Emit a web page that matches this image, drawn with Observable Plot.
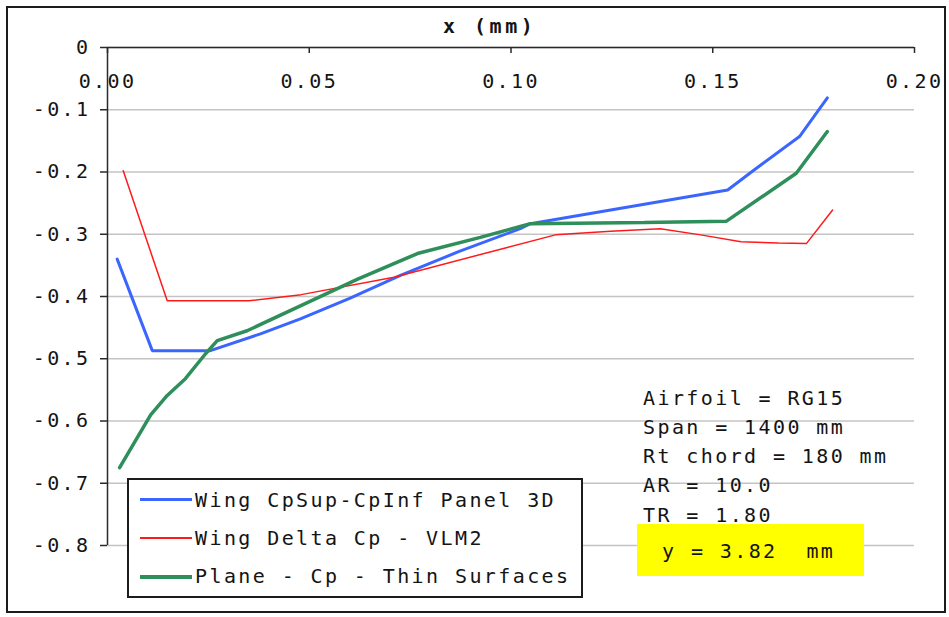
<!DOCTYPE html>
<html>
<head>
<meta charset="utf-8">
<script src="https://cdn.jsdelivr.net/npm/d3@7"></script>
<script src="https://cdn.jsdelivr.net/npm/@observablehq/plot@0.6"></script>
<style>
  html, body { margin: 0; padding: 0; background: #fff; }
  #wrap { position: relative; width: 949px; height: 617px; overflow: hidden; }
  .ov { position: absolute; font-family: "DejaVu Sans Mono", monospace; font-size: 20px; line-height: 20px; letter-spacing: 2.4px; color: #141414; white-space: pre; }
  #border { position: absolute; left: 6px; top: 6px; width: 940px; height: 607px; box-sizing: border-box; border: 2px solid #1c1c1c; pointer-events: none; }
  #legend { position: absolute; left: 127px; top: 478px; width: 456px; height: 120px; box-sizing: border-box; border: 2px solid #1c1c1c; background: #fff; }
  .sw { position: absolute; left: 11px; width: 52px; }
  #ybox { position: absolute; left: 637px; top: 524px; width: 227px; height: 52px; background: #ffff00; }
</style>
</head>
<body>
<div id="wrap"></div>
<script>
// ---- data ----
const seriesNames = ["Wing CpSup-CpInf Panel 3D", "Wing Delta Cp - VLM2", "Plane - Cp - Thin Surfaces"];
const seriesColors = ["#3a66ff", "#ff1a1a", "#2f8f5b"];
const seriesWidths = [3, 1.5, 3.5];

const blueX = [0.0024, 0.0111, 0.0255, 0.0379, 0.0478, 0.0600, 0.0726, 0.0870, 0.1023, 0.1048, 0.1247, 0.1537, 0.1600, 0.1715, 0.1784];
const blueY = [-0.340, -0.487, -0.487, -0.460, -0.436, -0.403, -0.366, -0.328, -0.291, -0.283, -0.261, -0.229, -0.198, -0.143, -0.081];

const redX = [0.0039, 0.0148, 0.0350, 0.0480, 0.0710, 0.0986, 0.1110, 0.1247, 0.1370, 0.1470, 0.1570, 0.1663, 0.1732, 0.1797];
const redY = [-0.198, -0.407, -0.407, -0.397, -0.369, -0.322, -0.301, -0.295, -0.291, -0.301, -0.312, -0.314, -0.315, -0.261];

const greenX = [0.0030, 0.0107, 0.0148, 0.0193, 0.0243, 0.0272, 0.0346, 0.0478, 0.0620, 0.0768, 0.0924, 0.1048, 0.1330, 0.1534, 0.1707, 0.1784];
const greenY = [-0.675, -0.590, -0.559, -0.532, -0.492, -0.471, -0.455, -0.415, -0.372, -0.331, -0.305, -0.283, -0.281, -0.279, -0.202, -0.135];

const xTicks = [0, 0.05, 0.10, 0.15, 0.20];
const yTicks = [0, -0.1, -0.2, -0.3, -0.4, -0.5, -0.6, -0.7, -0.8];

const titleText = "x (mm)";
const infoLines = ["Airfoil = RG15", "Span = 1400 mm", "Rt chord = 180 mm", "AR = 10.0", "TR = 1.80"];
const yLabel = "y = 3.82  mm";

// ---- build ----
const toRows = (xs, ys) => xs.map((x, i) => ({x, y: ys[i]}));
const allSeries = [toRows(blueX, blueY), toRows(redX, redY), toRows(greenX, greenY)];

const chart = Plot.plot({
  width: 949,
  height: 617,
  marginLeft: 107,
  marginRight: 35,
  marginTop: 47,
  marginBottom: 72,
  x: {domain: [0, 0.2], label: null},
  y: {domain: [-0.8, 0], label: null},
  style: {fontFamily: "DejaVu Sans Mono", fontSize: "20px", color: "#141414", background: "#fff", letterSpacing: "2.4px"},
  marks: [
    Plot.gridY(yTicks, {stroke: "#c4c4c4", strokeOpacity: 1, strokeWidth: 1.5}),
    Plot.ruleY([0], {stroke: "#2a2a2a", strokeWidth: 1.5}),
    Plot.ruleX([0], {stroke: "#2a2a2a", strokeWidth: 1.5}),
    Plot.axisY({ticks: yTicks, tickSize: 7, tickPadding: 10, stroke: "#2a2a2a", strokeWidth: 1.5, label: null,
      tickFormat: d => d === 0 ? "0" : d.toFixed(1)}),
    Plot.axisX({anchor: "top", ticks: xTicks, tickSize: 0, tickPadding: -40, label: null,
      tickFormat: d => d.toFixed(2)}),
    Plot.tickX(xTicks, {x: d => d, insetBottom: 492, stroke: "#2a2a2a", strokeWidth: 1.5}),
    ...allSeries.map((rows, i) => Plot.line(rows, {x: "x", y: "y", stroke: seriesColors[i], strokeWidth: seriesWidths[i], strokeLinejoin: "miter"}))
  ]
});

const wrap = document.getElementById("wrap");
wrap.appendChild(chart);

function addDiv(cls, text, left, top, extra) {
  const d = document.createElement("div");
  d.className = cls;
  d.textContent = text;
  d.style.left = left + "px";
  d.style.top = top + "px";
  if (extra) Object.assign(d.style, extra);
  wrap.appendChild(d);
  return d;
}

// title
addDiv("ov", titleText, 443, 16, {fontWeight: "bold", letterSpacing: "3.5px"});

// info lines
const infoTops = [388, 417, 446, 475, 505];
infoLines.forEach((t, i) => addDiv("ov", t, 643, infoTops[i]));

// yellow box
const yb = document.createElement("div"); yb.id = "ybox"; wrap.appendChild(yb);
addDiv("ov", yLabel, 662, 541);

// legend
const lg = document.createElement("div"); lg.id = "legend"; wrap.appendChild(lg);
const swY = [19, 58, 97];
const txtTop = [10, 48, 86];
seriesNames.forEach((name, i) => {
  const s = document.createElement("div");
  s.className = "sw";
  s.style.top = (swY[i] - seriesWidths[i] / 2) + "px";
  s.style.height = seriesWidths[i] + "px";
  s.style.background = seriesColors[i];
  lg.appendChild(s);
  const t = document.createElement("div");
  t.className = "ov";
  t.textContent = name;
  t.style.left = "66px";
  t.style.top = txtTop[i] + "px";
  lg.appendChild(t);
});

const b = document.createElement("div"); b.id = "border"; wrap.appendChild(b);
</script>
</body>
</html>
